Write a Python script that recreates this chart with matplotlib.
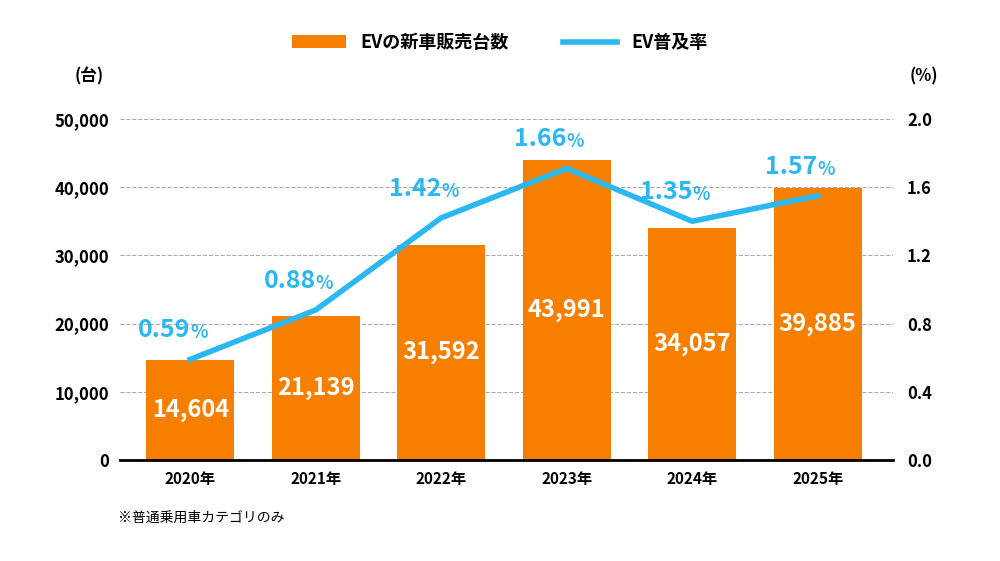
import matplotlib
matplotlib.use("Agg")
import matplotlib.pyplot as plt

plt.rcParams['font.family'] = ['Noto Sans CJK JP', 'DejaVu Sans']

years = ["2020年", "2021年", "2022年", "2023年", "2024年", "2025年"]
sales = [14604, 21139, 31592, 43991, 34057, 39885]
share = [0.59, 0.88, 1.42, 1.66, 1.35, 1.57]
share_line = [0.59, 0.88, 1.42, 1.71, 1.40, 1.55]

orange = "#F77F00"
cyan = "#2BB8F0"

fig = plt.figure(figsize=(10, 5.61), dpi=100)
ax = fig.add_axes([0.12, 0.18, 0.773, 0.608])
ax2 = ax.twinx()
x = list(range(len(years)))

bars = ax.bar(x, sales, width=0.7, color=orange, label="EVの新車販売台数", zorder=2)
for xi, v in zip(x, sales):
    ax.text(xi, v / 2, f"{v:,}", ha='center', va='center', color='white',
            fontsize=17, fontweight='bold', zorder=3)
ax.set_ylim(0, 50000)
ax.set_xlim(-0.56, 5.6)
ax.set_yticks(range(0, 50001, 10000))
ax.set_yticklabels([f"{v:,}" for v in range(0, 50001, 10000)], fontsize=12, fontweight='bold')
ax.set_xticks(x)
ax.set_xticklabels(years, fontsize=11, fontweight='bold')
ax.grid(axis='y', linestyle='--', color='#aaaaaa', linewidth=0.8, zorder=0)
ax.set_axisbelow(True)
for s in ['top', 'right', 'left']:
    ax.spines[s].set_visible(False)
ax.spines['bottom'].set_linewidth(2)
ax.tick_params(axis='both', length=0, pad=8)

line, = ax2.plot(x, share_line, color=cyan, linewidth=4, label="EV普及率", zorder=4)
for xi, yv, v in zip(x, share_line, share):
    ax2.text(xi, yv + 0.1, f"{v:.2f}", ha='right', va='bottom', color=cyan,
             fontsize=18, fontweight='bold', zorder=5)
    ax2.text(xi, yv + 0.1, "%", ha='left', va='bottom', color=cyan,
             fontsize=13, fontweight='bold', zorder=5)
ax2.set_ylim(0, 2.0)
ax2.set_yticks([0, 0.4, 0.8, 1.2, 1.6, 2.0])
ax2.set_yticklabels(["0.0", "0.4", "0.8", "1.2", "1.6", "2.0"], fontsize=12, fontweight='bold')
for s in ['top', 'right', 'left', 'bottom']:
    ax2.spines[s].set_visible(False)
ax2.tick_params(axis='y', length=0, pad=10)

fig.text(0.075, 0.855, "(台)", fontsize=12, fontweight='bold', ha='left')
fig.text(0.91, 0.855, "(%)", fontsize=12, fontweight='bold', ha='left')
fig.text(0.118, 0.07, "※普通乗用車カテゴリのみ", fontsize=10, ha='left')

fig.legend([bars, line], ["EVの新車販売台数", "EV普及率"], loc='upper center',
           bbox_to_anchor=(0.5, 0.97), ncol=2, frameon=False,
           prop={'size': 13, 'weight': 'bold'}, handlelength=3, columnspacing=3)

fig.savefig("out.png", dpi=100)
